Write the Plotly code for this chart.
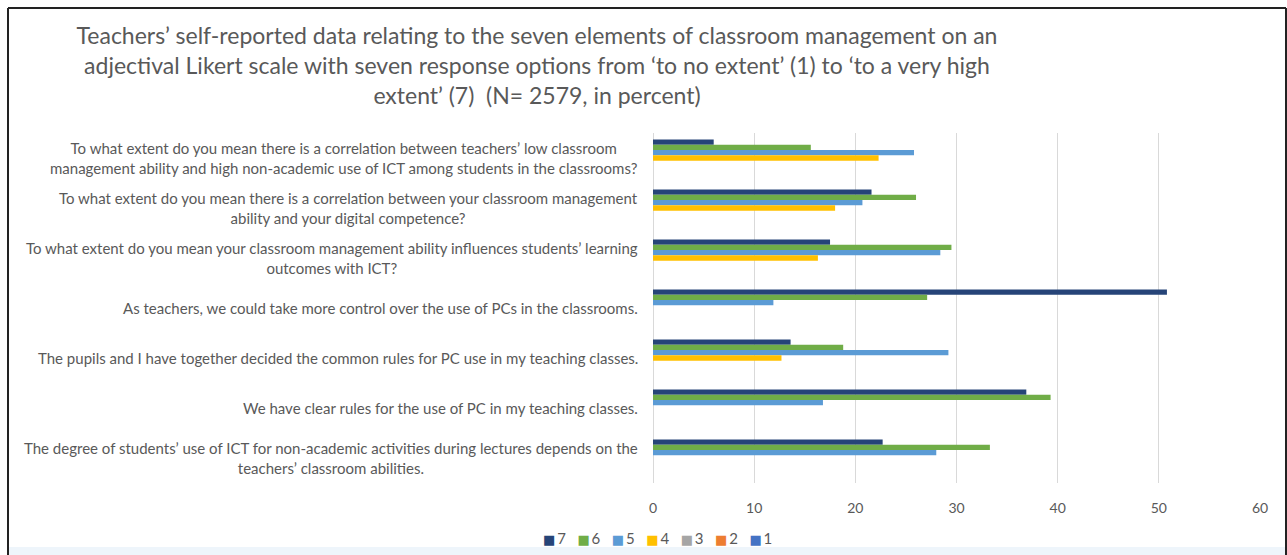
import plotly.graph_objects as go

categories = [
    "To what extent do you mean there is a correlation between teachers’ low classroom<br>management ability and high non-academic use of ICT among students in the classrooms?",
    "To what extent do you mean there is a correlation between your classroom management<br>ability and your digital competence?",
    "To what extent do you mean your classroom management ability influences students’ learning<br>outcomes with ICT?",
    "As teachers, we could take more control over the use of PCs in the classrooms.",
    "The pupils and I have together decided the common rules for PC use in my teaching classes.",
    "We have clear rules for the use of PC in my teaching classes.",
    "The degree of students’ use of ICT for non-academic activities during lectures depends on the<br>teachers’ classroom abilities.",
]
series_names = ["7", "6", "5", "4", "3", "2", "1"]
values_7 = [6.0, 21.6, 17.5, 50.8, 13.6, 36.9, 22.7]
values_6 = [15.6, 26.0, 29.5, 27.1, 18.8, 39.3, 33.3]
values_5 = [25.8, 20.7, 28.4, 11.9, 29.2, 16.8, 28.0]
values_4 = [22.3, 18.0, 16.3, 0.0, 12.7, 0.0, 0.0]
values_3 = [0, 0, 0, 0, 0, 0, 0]
values_2 = [0, 0, 0, 0, 0, 0, 0]
values_1 = [0, 0, 0, 0, 0, 0, 0]
series_values = [values_7, values_6, values_5, values_4, values_3, values_2, values_1]
colors = ["#264478", "#70AD47", "#5B9BD5", "#FFC000", "#A5A5A5", "#ED7D31", "#4472C4"]
x_ticks = [0, 10, 20, 30, 40, 50, 60]

title_text = ("Teachers’ self-reported data relating to the seven elements of classroom management on an<br>"
              "adjectival Likert scale with seven response options from ‘to no extent’ (1) to ‘to a very high<br>"
              "extent’ (7)  (N= 2579, in percent)")

W, H = 1287, 555
L, R, T, B = 653, 27, 133, 72
pw, ph = W - L - R, H - T - B
gray = "#595959"


def px_x(p):
    return (p - L) / pw


def px_y(p):
    return (H - B - p) / ph


fig = go.Figure()
for name, vals, col in zip(series_names, series_values, colors):
    fig.add_trace(go.Bar(
        x=vals, y=categories, name=name, orientation="h",
        marker=dict(color=col, line=dict(width=0)),
    ))

for c in categories:
    fig.add_annotation(
        x=px_x(640), xref="paper", y=c, yref="y",
        text=c, showarrow=False, xanchor="right", yanchor="middle",
        align="center", font=dict(family="Lato", size=15, color=gray),
    )

# compact legend drawn as text with coloured squares, like the original
legend_text = "&nbsp;&nbsp;&nbsp;".join(
    f"<span style='color:{col};font-family:DejaVu Sans;font-size:13px'>■</span>&#8201;{name}"
    for name, col in zip(series_names, colors)
)
fig.add_annotation(x=px_x(657), xref="paper", y=px_y(538), yref="paper",
                   text=legend_text, showarrow=False, xanchor="center", yanchor="middle",
                   font=dict(family="Lato", size=15, color=gray))

frame = dict(color="#222222", width=2)
fig.add_shape(type="rect", xref="paper", yref="paper",
              x0=px_x(8), x1=px_x(1286), y0=px_y(547), y1=px_y(556),
              fillcolor="#eef5fb", line=dict(width=0), layer="below")
fig.add_shape(type="line", xref="paper", yref="paper",
              x0=px_x(8), x1=px_x(1286), y0=px_y(8), y1=px_y(8), line=frame)
fig.add_shape(type="line", xref="paper", yref="paper",
              x0=px_x(8), x1=px_x(8), y0=px_y(8), y1=px_y(560), line=frame)
fig.add_shape(type="line", xref="paper", yref="paper",
              x0=px_x(1286), x1=px_x(1286), y0=px_y(8), y1=px_y(560), line=frame)

fig.update_layout(
    width=W, height=H,
    margin=dict(l=L, r=R, t=T, b=B),
    paper_bgcolor="white", plot_bgcolor="white",
    barmode="group", bargap=0.26, bargroupgap=0,
    font=dict(family="Lato", color=gray),
    title=dict(text=title_text, x=537 / W, xref="container", xanchor="center",
               y=1 - 44 / H, yref="container", yanchor="top",
               font=dict(family="Lato", size=23, color=gray)),
    showlegend=False,
)
fig.update_xaxes(range=[0, 60], tickvals=x_ticks, showgrid=True, gridcolor="#d9d9d9",
                 gridwidth=1, zeroline=True, zerolinecolor="#d9d9d9", zerolinewidth=1,
                 tickfont=dict(family="Lato", size=14, color=gray), ticks="", ticklabelstandoff=15)
fig.update_yaxes(autorange="reversed", showticklabels=False, showgrid=False, ticks="")

fig.write_html("out.html", config={"displayModeBar": False},
               post_script="document.body.style.margin='0';document.body.style.overflow='hidden';")
